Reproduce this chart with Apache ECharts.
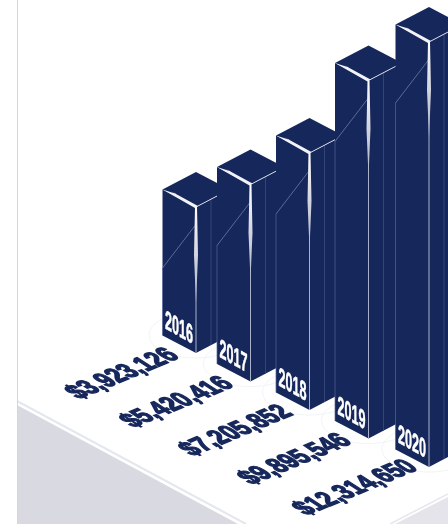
<!DOCTYPE html>
<html><head><meta charset="utf-8">
<style>html,body{margin:0;padding:0;background:#fff}#c{width:448px;height:524px}</style>
<script src="https://cdn.jsdelivr.net/npm/echarts@6/dist/echarts.min.js"></script></head>
<body><div id="c"></div>
<script>
const years = ['2016','2017','2018','2019','2020'];
const amounts = ['$3,923,126','$5,420,416','$7,205,852','$9,895,546','$12,314,650'];
const barHeights = [146,197,257,358,425];

const NAVY = '#16275b', FONT = '"Liberation Sans",sans-serif';
const DROP = 28.5, HW = 33.5, HH = 17.5;
const SLOT_NUDGE = [0,-3.75,-3,-2.25,0];

function affine(x, y, u, v, child){
  const E=(u[0]+v[1])/2,F=(u[0]-v[1])/2,G=(u[1]+v[0])/2,H=(u[1]-v[0])/2;
  const Q=Math.hypot(E,H),R=Math.hypot(F,G),a1=Math.atan2(G,F),a2=Math.atan2(H,E);
  return {type:'group',x,y,rotation:-(a2+a1)/2,scaleX:Q+R,scaleY:Q-R,
    children:[{type:'group',rotation:-(a2-a1)/2,children:[child]}]};
}
function base(api){
  const i = api.value(0);
  const b = api.coord([i,0]), t = api.coord([i,api.value(1)]);
  return {i, x:b[0]+SLOT_NUDGE[i], by:b[1]+i*DROP, ty:t[1]+i*DROP};
}
const poly=(pts,fill)=>({type:'polygon',shape:{points:pts},style:{fill}});
const line=(a,b,stroke,w)=>({type:'line',shape:{x1:a[0],y1:a[1],x2:b[0],y2:b[1]},style:{stroke,lineWidth:w}});

function renderBar(params,api){
  const {i,x,by,ty}=base(api);
  const grad=(c)=>({type:'linear',x:0,y:0,x2:0,y2:1,colorStops:c});
  return {type:'group',children:[
    poly([[x-HW,ty-HH],[x,ty],[x,by],[x-HW,by-HH]],NAVY),
    poly([[x,ty],[x+HW,ty-HH],[x+HW,by-HH],[x,by]],NAVY),
    poly([[x,ty],[x-HW,ty-HH],[x,ty-2*HH],[x+HW,ty-HH]],NAVY),
    line([x-HW,ty+61],[x-HW,by-HH],'#56649a',0.7),
    line([x-0.5,ty+18],[x-HW,ty+61],'#7a86ac',0.7),
    line([x+15,ty-8],[x+15,by-8],'#3c4b7e',0.8),
    line([x,ty],[x+HW,ty-HH],'#d4d8e4',1),
    line([x,ty],[x,by],'#a9b1ca',1),
    poly([[x-HW,ty-HH],[x-1,ty+1],[x+2,ty-1],[x-HW+8,ty-HH+1.5],[x-HW+14,ty-HH+4.5]],'#f2f3f7'),
    poly([[x-1,ty],[x+1,ty],[x+2,ty+48],[x,ty+96],[x-2,ty+48]],
      grad([{offset:0,color:'#ffffff'},{offset:.5,color:'#d2d4de'},{offset:1,color:'#aeb5cc'}])),
    affine(x-17,by-24,[0.55,0.31],[0,1.15],{type:'text',style:{text:years[i],font:'bold 23px '+FONT,fill:'#fff',stroke:'#fff',lineWidth:0.5,align:'center',verticalAlign:'middle'}})
  ]};
}
function renderHalo(params,api){
  const {x,by}=base(api);
  return {type:'ellipse',shape:{cx:x,cy:by-18,rx:47,ry:23},style:{fill:'none',stroke:'#edf0f5',lineWidth:0.8}};
}
function renderAmount(params,api){
  const {i,x,by}=base(api);
  return affine(x-73,by+21,[0.70,-0.29],[0.85,0.55],{type:'text',style:{text:amounts[i],font:'bold 29px '+FONT,fill:NAVY,stroke:NAVY,lineWidth:1.7,align:'center',verticalAlign:'middle'}});
}

const rows = years.map((y,i)=>[i,barHeights[i]]);
const chart = echarts.init(document.getElementById('c'),null,{renderer:'canvas'});
const ser=(renderItem,z)=>({type:'custom',renderItem,data:rows,z,clip:false,silent:true,animation:false,encode:{x:0,y:1}});
chart.setOption({
  animation:false,backgroundColor:'#fff',
  grid:{left:196,width:233,top:0,height:353},
  xAxis:{type:'category',data:years,boundaryGap:false,show:false},
  yAxis:{type:'value',min:0,max:353,show:false},
  graphic:[
    {type:'polygon',z:0,shape:{points:[[17,405],[17,524],[238,524]]},style:{fill:'#d8d9e1'}},
    {type:'polygon',z:0,shape:{points:[[395,524],[448,497],[448,524]]},style:{fill:'#e4e4ea'}},
    {type:'line',z:0,shape:{x1:17,y1:401,x2:246,y2:524},style:{stroke:'#e3e8ef',lineWidth:2}},
    {type:'line',z:0,shape:{x1:390,y1:524,x2:448,y2:494},style:{stroke:'#e3e8ef',lineWidth:1.5}},
    {type:'line',z:0,shape:{x1:17.5,y1:0,x2:17.5,y2:524},style:{stroke:'#d6d6da',lineWidth:1}}
  ],
  series:[ser(renderHalo,1),ser(renderBar,2),ser(renderAmount,3)]
});
</script></body></html>
